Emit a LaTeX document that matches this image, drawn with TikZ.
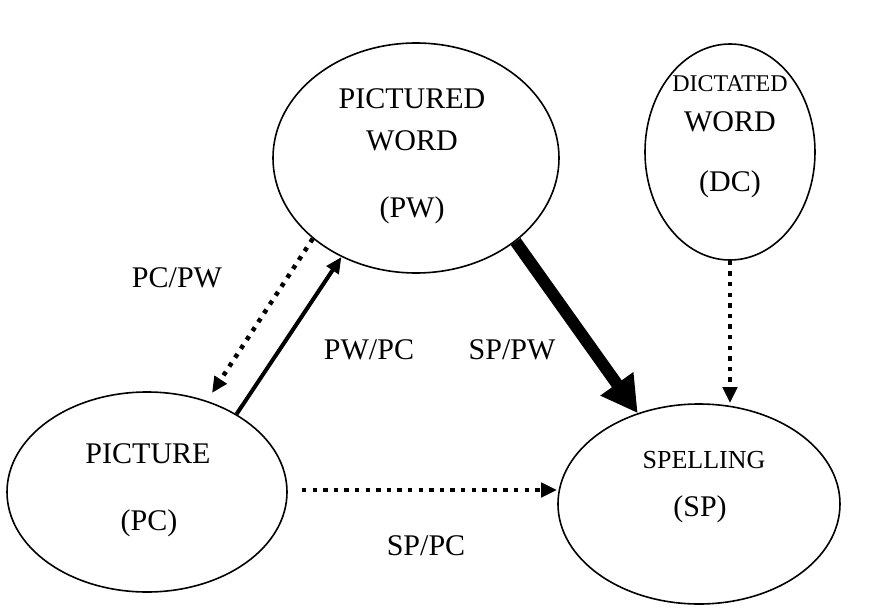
\documentclass[tikz,border=0pt]{standalone}
\usepackage{fontspec}
\setmainfont{Liberation Serif}
\usetikzlibrary{shapes.geometric,arrows.meta}
\begin{document}
\begin{tikzpicture}[x=1pt,y=-1pt,
  bubble/.style={draw, line width=1.6pt, ellipse, inner sep=0pt},
  lbl/.style={anchor=base, inner sep=0pt, font=\fontsize{30}{36}\selectfont},
  smalllbl/.style={anchor=base, inner sep=0pt, font=\fontsize{26}{31}\selectfont},
  tinylbl/.style={anchor=base, inner sep=0pt, font=\fontsize{24}{29}\selectfont},
  dotline/.style={line width=4.5pt, dash pattern=on 4.3pt off 6.3pt, -{Triangle[length=16pt,width=14pt]}},
  solidarrow/.style={line width=4pt, -{Triangle[length=16pt,width=14pt]}},
  heavyarrow/.style={line width=12pt, -{Triangle[length=36pt,width=38pt]}}
]
\useasboundingbox (0,0) rectangle (876,608);
% ellipses
\node[bubble, minimum width=286pt, minimum height=230pt] (pw) at (416,158) {};
\node[bubble, minimum width=170pt, minimum height=216pt] (dc) at (730,152) {};
\node[bubble, minimum width=280pt, minimum height=200pt] (pc) at (147,492) {};
\node[bubble, minimum width=282pt, minimum height=200pt] (sp) at (699,504) {};
% texts
\node[lbl] (pw1) at (412,108) {PICTURED};
\node[lbl] (pw2) at (412,150) {WORD};
\node[lbl] (pw3) at (412,217) {(PW)};
\node[tinylbl] (dc1) at (730,91) {DICTATED};
\node[lbl] (dc2) at (730,131) {WORD};
\node[lbl] (dc3) at (730,191) {(DC)};
\node[lbl] (pc1) at (148,463) {PICTURE};
\node[lbl] (pc2) at (149,530) {(PC)};
\node[smalllbl] (sp1) at (704,468) {SPELLING};
\node[lbl] (sp2) at (700,516) {(SP)};
% connector labels
\node[lbl] (l1) at (177,287) {PC/PW};
\node[lbl] (l2) at (369,359) {PW/PC};
\node[lbl] (l3) at (512,359) {SP/PW};
\node[lbl] (l4) at (426,555) {SP/PC};
% connectors
\coordinate (pctip) at (212,393);
\coordinate (spcstart) at (302,490);
\draw[dotline] (pw.218.7) -- (pctip);
\draw[solidarrow] (pc.41.6) -- (pw.233.1);
\draw[heavyarrow] (pw.-40.4) -- (sp.124.1);
\draw[dotline] (spcstart) -- (spcstart -| sp.west);
\draw[dotline] (dc.south) -- (dc.south |- sp.north);
\end{tikzpicture}
\end{document}
